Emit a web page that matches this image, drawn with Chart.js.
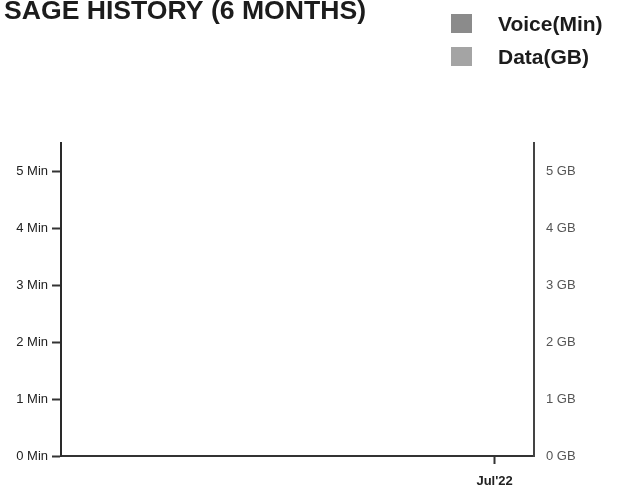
<!DOCTYPE html>
<html>
<head>
<meta charset="utf-8">
<script src="https://cdn.jsdelivr.net/npm/chart.js@4/dist/chart.umd.min.js"></script>
<style>
  html, body { margin: 0; padding: 0; background: #ffffff; }
  #wrap { width: 623px; height: 491px; position: relative; }
</style>
</head>
<body>
<div id="wrap"><canvas id="usage" width="623" height="491"></canvas></div>
<script>
// Usage history, last six months
const titleText = 'SAGE HISTORY (6 MONTHS)';
const months = ['', '', '', '', '', "Jul'22"];
const voiceMinutes = [0, 0, 0, 0, 0, 0];
const dataGB = [0, 0, 0, 0, 0, 0];
const tickValues = [0, 1, 2, 3, 4, 5];
const minuteTickLabels = ['0 Min', '1 Min', '2 Min', '3 Min', '4 Min', '5 Min'];
const gbTickLabels = ['0 GB', '1 GB', '2 GB', '3 GB', '4 GB', '5 GB'];
const seriesNames = ['Voice(Min)', 'Data(GB)'];

const FONT = "'Liberation Sans', Arial, Helvetica, sans-serif";

// Title top-left and a stacked legend top-right
const headerPlugin = {
  id: 'header',
  afterDraw(chart) {
    const ctx = chart.ctx;
    ctx.save();
    ctx.fillStyle = '#1c1c1c';
    ctx.font = 'bold 26.6px ' + FONT;
    ctx.textBaseline = 'alphabetic';
    ctx.textAlign = 'left';
    ctx.fillText(titleText, 4, 19);

    const rows = [14, 47];
    chart.data.datasets.forEach((ds, i) => {
      ctx.fillStyle = ds.backgroundColor;
      ctx.fillRect(451, rows[i], 21, 19);
      ctx.fillStyle = '#1c1c1c';
      ctx.font = 'bold 21px ' + FONT;
      ctx.textBaseline = 'middle';
      ctx.fillText(ds.label, 498, rows[i] + 11);
    });
    ctx.restore();
  }
};

const fixedTicks = (scale) => {
  scale.ticks = tickValues.map(v => ({ value: v }));
};

new Chart(document.getElementById('usage'), {
  type: 'bar',
  data: {
    labels: months,
    datasets: [
      { label: seriesNames[0], data: voiceMinutes, backgroundColor: '#8b8b8b', yAxisID: 'y', borderWidth: 0 },
      { label: seriesNames[1], data: dataGB, backgroundColor: '#a4a4a4', yAxisID: 'y1', borderWidth: 0 }
    ]
  },
  options: {
    responsive: false,
    animation: false,
    layout: { padding: { top: 143, left: 0, right: 0, bottom: 0 } },
    plugins: {
      legend: { display: false },
      title: { display: false },
      tooltip: { enabled: false }
    },
    scales: {
      x: {
        offset: true,
        grid: {
          display: true,
          drawOnChartArea: false,
          offset: false,
          drawTicks: true,
          tickLength: 8,
          tickWidth: 2,
          tickColor: (c) => (c.tick && c.tick.label ? '#333333' : 'rgba(0,0,0,0)')
        },
        border: { display: true, color: '#333333', width: 2 },
        ticks: {
          autoSkip: false,
          maxRotation: 0,
          padding: 10,
          color: '#222222',
          font: { family: FONT, size: 13, weight: 'bold' }
        },
        afterFit(scale) { scale.height = 35; }
      },
      y: {
        position: 'left',
        min: 0,
        max: 5.5,
        afterBuildTicks: fixedTicks,
        grid: {
          display: true,
          drawOnChartArea: false,
          drawTicks: true,
          tickLength: 9,
          tickWidth: 2,
          tickColor: '#333333'
        },
        border: { display: true, color: '#2a2a2a', width: 2 },
        ticks: {
          padding: 4,
          color: '#222222',
          font: { family: FONT, size: 13 },
          callback: (v) => minuteTickLabels[tickValues.indexOf(v)] ?? ''
        },
        afterFit(scale) { scale.width = 61; }
      },
      y1: {
        position: 'right',
        min: 0,
        max: 5.5,
        afterBuildTicks: fixedTicks,
        grid: { display: false, drawOnChartArea: false, drawTicks: false },
        border: { display: true, color: '#444444', width: 2 },
        ticks: {
          padding: 12,
          color: '#555555',
          font: { family: FONT, size: 13 },
          callback: (v) => gbTickLabels[tickValues.indexOf(v)] ?? ''
        },
        afterFit(scale) { scale.width = 89; }
      }
    }
  },
  plugins: [headerPlugin]
});
</script>
</body>
</html>
